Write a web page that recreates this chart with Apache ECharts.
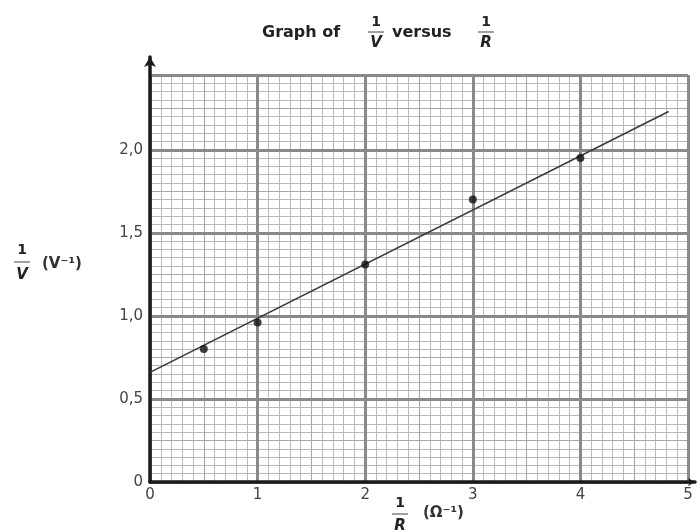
<!DOCTYPE html>
<html>
<head>
<meta charset="utf-8">
<script src="https://cdn.jsdelivr.net/npm/echarts@6/dist/echarts.min.js"></script>
<style>
html,body{margin:0;padding:0;background:#fff;}
#c{width:700px;height:532px;}
</style>
</head>
<body>
<div id="c"></div>
<script>
// Data
var xValues = [0.5, 1, 2, 3, 4];          // 1/R (Ω⁻¹)
var yValues = [0.80, 0.96, 1.31, 1.70, 1.95]; // 1/V (V⁻¹)
var fitX = [0, 4.82];
var fitY = [0.66, 2.23];
var xTicks = [0, 1, 2, 3, 4, 5];
var yTicks = [0, 0.5, 1.0, 1.5, 2.0];

var points = xValues.map(function (x, i) { return [x, yValues[i]]; });
var fitLine = fitX.map(function (x, i) { return [x, fitY[i]]; });

var FONT = 'DejaVu Sans';
var chart = echarts.init(document.getElementById('c'), null, {renderer: 'canvas'});

function hiddenAxisBase(extra) {
  var o = {
    type: 'value', gridIndex: 0,
    axisLine: {show: false}, axisTick: {show: false}, axisLabel: {show: false}
  };
  for (var k in extra) o[k] = extra[k];
  return o;
}

function fracGroup(cx, topY, num, den, gap) {
  gap = gap || 10;
  return {
    type: 'group',
    children: [
      {type: 'text', style: {text: num, x: cx, y: topY, align: 'center', verticalAlign: 'middle',
        font: 'bold 14px "' + FONT + '"', fill: '#222'}},
      {type: 'line', shape: {x1: cx - 8, y1: topY + gap, x2: cx + 8, y2: topY + gap},
        style: {stroke: '#444', lineWidth: 1}},
      {type: 'text', style: {text: den, x: cx, y: topY + 2 * gap + 1, align: 'center', verticalAlign: 'middle',
        font: 'italic bold 15px "' + FONT + '"', fill: '#222'}}
    ]
  };
}

var option = {
  backgroundColor: '#fff',
  animation: false,
  grid: [
    {left: 150, right: 12, top: 75, bottom: 50},
    {left: 150, right: 5, top: 57, bottom: 50}
  ],
  xAxis: [
    hiddenAxisBase({min: 0, max: 5, interval: 1, z: 3,
      axisLabel: {show: true, margin: 6, color: '#444', fontFamily: FONT, fontSize: 15,
        formatter: function (v) { return xTicks.indexOf(v) >= 0 ? String(v) : ''; }},
      splitLine: {show: true, lineStyle: {color: '#8a8a8a', width: 3}}}),
    hiddenAxisBase({min: 0, max: 5, interval: 0.5, z: 2,
      splitLine: {show: true, lineStyle: {color: '#a8a8a8', width: 1.1}}}),
    hiddenAxisBase({min: 0, max: 5, interval: 0.1, z: 1,
      splitLine: {show: true, lineStyle: {color: '#b8b8b8', width: 1}}}),
    {type: 'value', gridIndex: 1, min: 0, max: 1, z: 5,
      axisLine: {show: true, symbol: ['none', 'arrow'], symbolSize: [6, 7],
        lineStyle: {color: '#1a1a1a', width: 3.5}},
      axisTick: {show: false}, axisLabel: {show: false}, splitLine: {show: false}}
  ],
  yAxis: [
    hiddenAxisBase({min: 0, max: 2.45, interval: 0.5, z: 3,
      axisLabel: {show: true, margin: 7, color: '#444', fontFamily: FONT, fontSize: 15,
        formatter: function (v) {
          var hit = yTicks.filter(function (t) { return Math.abs(t - v) < 1e-6; });
          if (!hit.length) return '';
          return v === 0 ? '0' : v.toFixed(1).replace('.', ',');
        }},
      splitLine: {show: true, lineStyle: {color: '#8a8a8a', width: 3}}}),
    hiddenAxisBase({min: 0, max: 2.45, interval: 0.25, z: 2,
      splitLine: {show: true, lineStyle: {color: '#a8a8a8', width: 1.1}}}),
    hiddenAxisBase({min: 0, max: 2.45, interval: 0.05, z: 1,
      splitLine: {show: true, lineStyle: {color: '#b8b8b8', width: 1}}}),
    {type: 'value', gridIndex: 1, min: 0, max: 1, z: 5,
      axisLine: {show: true, symbol: ['none', 'arrow'], symbolSize: [9, 10],
        lineStyle: {color: '#1a1a1a', width: 3.5}},
      axisTick: {show: false}, axisLabel: {show: false}, splitLine: {show: false}}
  ],
  series: [
    {type: 'line', xAxisIndex: 0, yAxisIndex: 0, data: fitLine, symbol: 'none', z: 10,
      lineStyle: {color: '#3a3a3a', width: 1.6}},
    {type: 'scatter', xAxisIndex: 0, yAxisIndex: 0, data: points, symbolSize: 8, z: 11,
      itemStyle: {color: '#111'}}
  ],
  graphic: [
    {type: 'text', style: {text: 'Graph of', x: 262, y: 33, verticalAlign: 'middle',
      font: 'bold 16px "' + FONT + '"', fill: '#222'}},
    fracGroup(376, 22, '1', 'V'),
    {type: 'text', style: {text: 'versus', x: 392, y: 33, verticalAlign: 'middle',
      font: 'bold 16px "' + FONT + '"', fill: '#222'}},
    fracGroup(486, 22, '1', 'R'),
    fracGroup(22, 250, '1', 'V', 12),
    {type: 'text', style: {text: '(V\u207B\u00B9)', x: 42, y: 264, verticalAlign: 'middle',
      font: 'bold 15px "' + FONT + '"', fill: '#333'}},
    fracGroup(400, 503, '1', 'R', 11),
    {type: 'text', style: {text: '(\u03A9\u207B\u00B9)', x: 423, y: 513, verticalAlign: 'middle',
      font: 'bold 15px "' + FONT + '"', fill: '#333'}}
  ]
};
chart.setOption(option);
</script>
</body>
</html>
